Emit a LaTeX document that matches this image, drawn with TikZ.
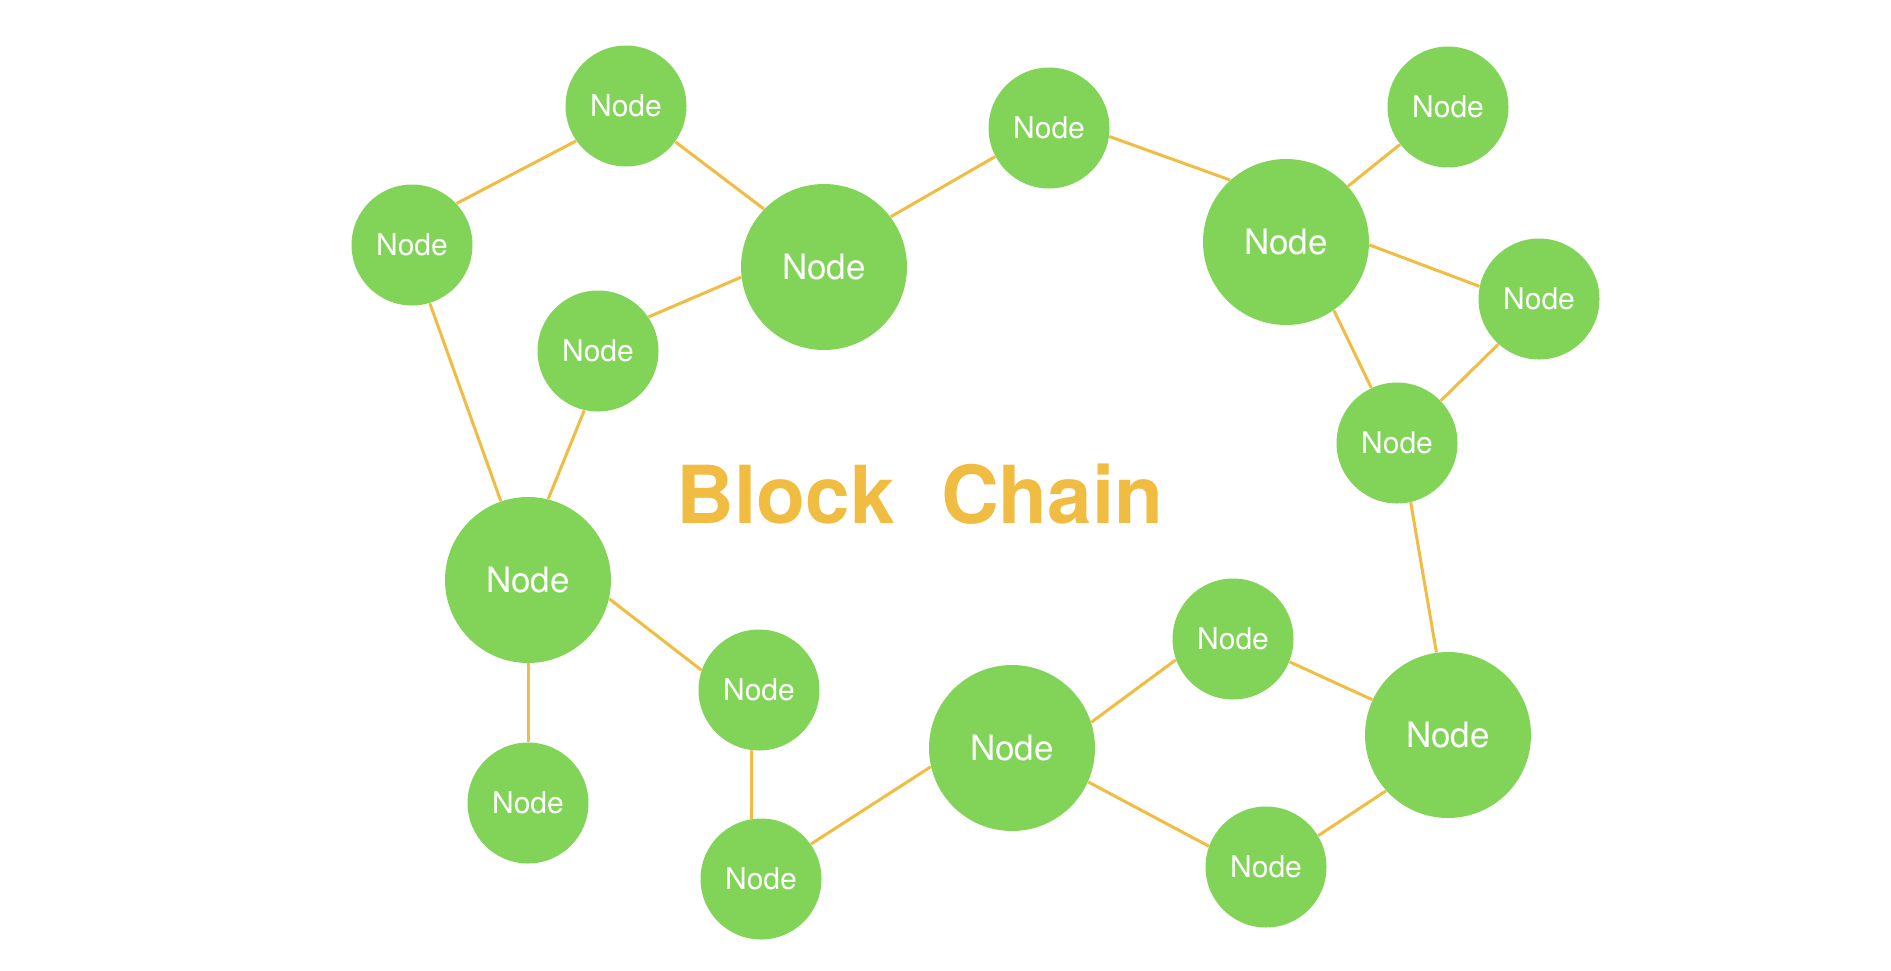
\documentclass[tikz,border=0pt]{standalone}
\usepackage{fontspec}
\setmainfont{TeX Gyre Heros}
\usepackage{xcolor}
\usepackage{tikz}
\definecolor{nodegreen}{HTML}{82D458}
\definecolor{chainorange}{HTML}{F0BC42}

\begin{document}
\begin{tikzpicture}[x=0.5pt,y=-0.5pt,
  peer/.style={circle,fill=nodegreen,text=white,minimum size=60.5pt,inner sep=0pt,font=\fontsize{15}{15}\selectfont},
  hub/.style={peer,minimum size=83pt,font=\fontsize{17.5}{17.5}\selectfont},
  link/.style={draw=chainorange,line width=1.5pt}]
\useasboundingbox (0,0) rectangle (1891,970);
% small peers
\foreach \i/\x/\y in {1/626/106,2/412/245,4/598/351,5/1049/128,7/1448/107,8/1539/299,
  9/1397/443,11/759/690,12/528/803,13/761/879,15/1233/639,17/1266/867}{
  \node[peer] (n\i) at (\x,\y) {Node};
}
% big hubs
\foreach \i/\x/\y in {3/824/267,6/1286/242,10/528/580,14/1012/748,16/1448/735}{
  \node[hub] (n\i) at (\x,\y) {Node};
}
% links: node/anchor angle -- node/anchor angle
\foreach \a/\p/\b/\q in {1/-145/2/43,1/-36/3/136,3/-173/4/34,3/37/5/-152,5/-8/6/132,
  6/42/7/-142,6/-2/8/168,6/-55/9/115,8/-132/9/44,2/-73/10/109,4/-103/10/76,
  10/-13/11/161,10/-90/12/90,11/-97/13/99,13/35/14/-167,14/18/15/-160,
  14/-24/17/160,15/-22/16/155,17/31/16/-138,9/-77/16/98}{
  \draw[link] (n\a.\p) -- (n\b.\q);
}
\node[text=chainorange,font=\fontsize{40}{40}\selectfont\bfseries] (title) at (920,494) {Block\hspace{0.3em} Chain};
\end{tikzpicture}
\end{document}
